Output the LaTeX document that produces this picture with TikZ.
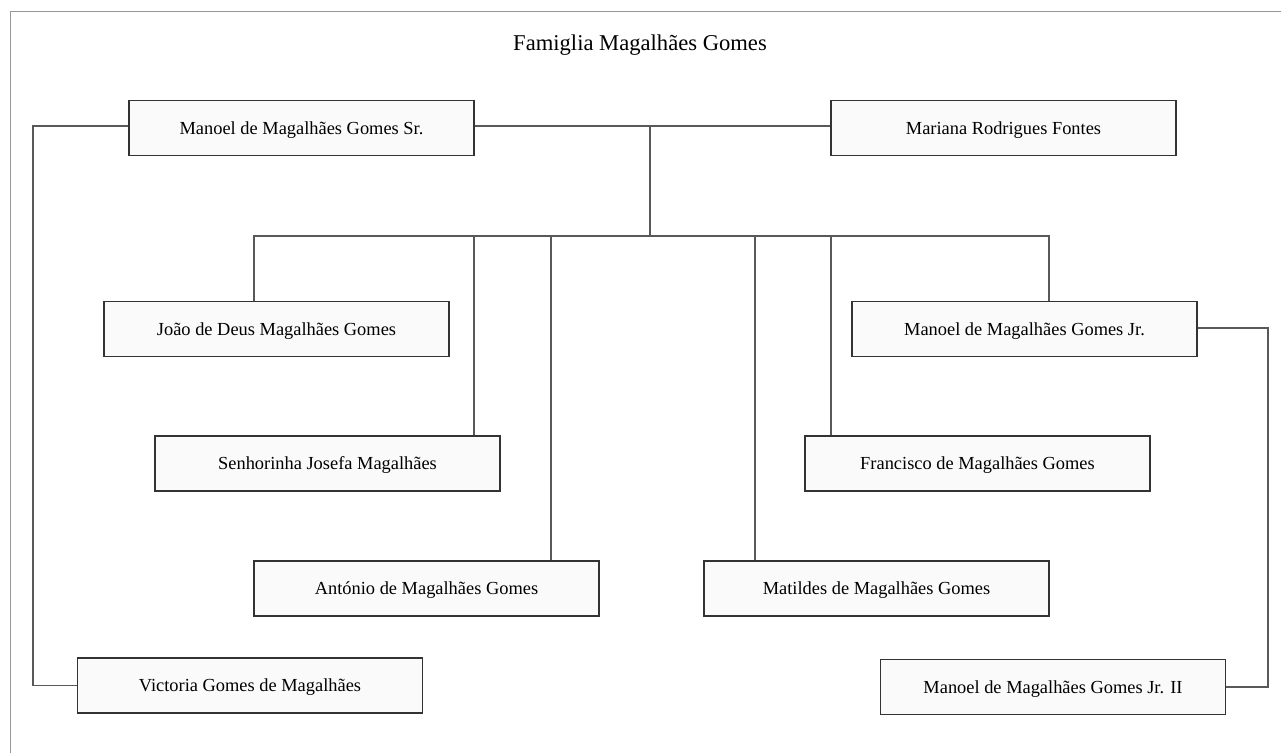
\documentclass[tikz,border=0pt]{standalone}
\usepackage{fontspec}
\setmainfont{Liberation Serif}
\begin{document}
\begin{tikzpicture}[x=1pt,y=-1pt,
  person/.style={draw=black!80,line width=1.1pt,fill=black!2,minimum width=345pt,minimum height=55pt,inner sep=0pt,text height=12.6pt,text depth=0pt,font=\fontsize{18.4}{20}\selectfont,anchor=center},
  link/.style={draw=black!65,line width=1.1pt},
  frame/.style={draw=black!40,line width=0.9pt}]
\useasboundingbox (0,0) rectangle (1281,753);
\draw[frame] (10,753) -- (10,11) -- (1281,11);
\node[font=\fontsize{22.6}{26}\selectfont] (title) at (640,45) {Famiglia Magalhães Gomes};
\node[person] (sr) at (301.5,128) {Manoel de Magalhães Gomes Sr.};
\node[person] (mar) at (1003.5,128) {Mariana Rodrigues Fontes};
\node[person] (joao) at (276.5,329) {João de Deus Magalhães Gomes};
\node[person] (jr) at (1024.5,329) {Manoel de Magalhães Gomes Jr.};
\node[person] (sen) at (327.5,463.5) {Senhorinha Josefa Magalhães};
\node[person] (fra) at (977.5,463.5) {Francisco de Magalhães Gomes};
\node[person] (ant) at (426.5,588.5) {António de Magalhães Gomes};
\node[person] (mat) at (876.5,588.5) {Matildes de Magalhães Gomes};
\node[person] (vic) at (250,685.5) {Victoria Gomes de Magalhães};
\node[person] (jr2) at (1053,687) {Manoel de Magalhães Gomes Jr. II};
\coordinate (m) at (650,126);
\coordinate (bar) at (650,236);
\draw[link] (sr.east |- m) -- (mar.west |- m);
\draw[link] (m) -- (bar);
\draw[link] (joao.north -| 254,0) -- (254,236) -- (1049,236) -- (jr.north -| 1049,0);
\draw[link] (474,236) -- (sen.north -| 474,0);
\draw[link] (551,236) -- (ant.north -| 551,0);
\draw[link] (755,236) -- (mat.north -| 755,0);
\draw[link] (831,236) -- (fra.north -| 831,0);
\draw[link] (sr.west |- m) -- (33,126) -- (33,685.5) -- (vic.west);
\draw[link] (jr.east |- 0,328) -- (1268,328) -- (1268,687) -- (jr2.east);
\end{tikzpicture}
\end{document}
